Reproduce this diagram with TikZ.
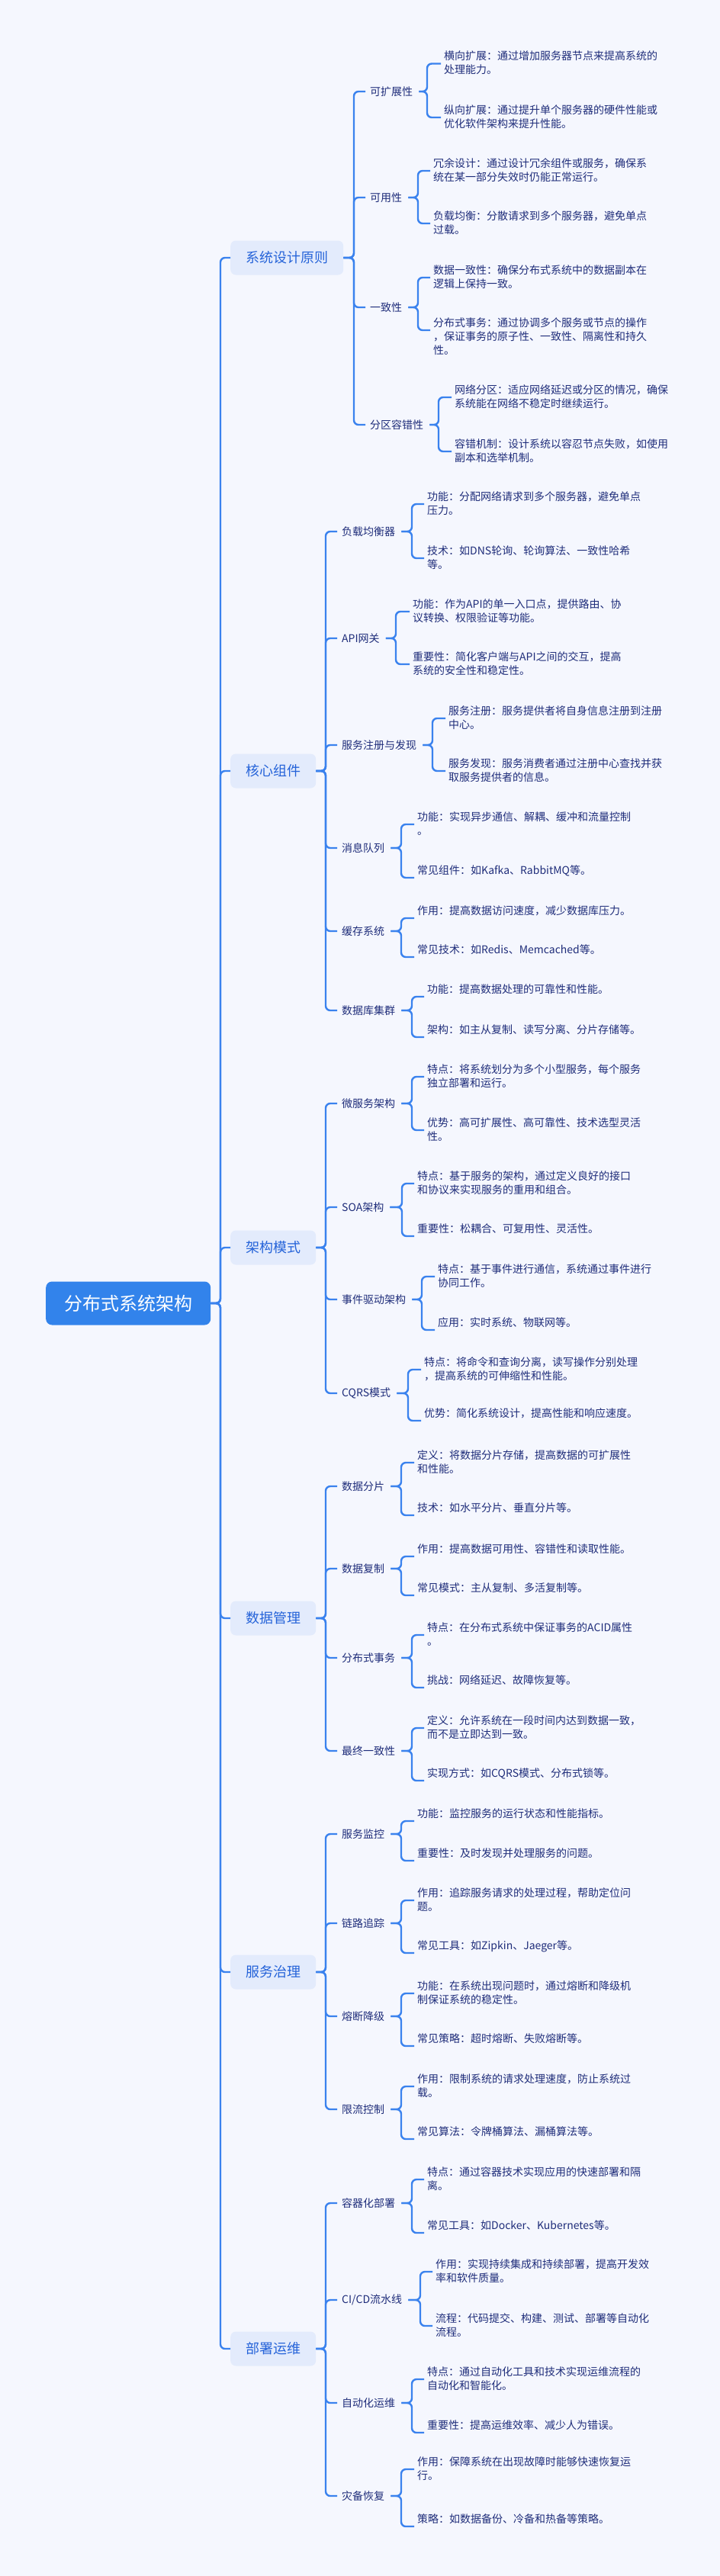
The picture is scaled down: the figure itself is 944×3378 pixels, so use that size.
\documentclass[tikz,border=0pt]{standalone}
\usepackage{fontspec}
\setmainfont{Noto Sans CJK SC}
\definecolor{bg}{HTML}{F5F7FE}
\definecolor{ln}{HTML}{3A82EE}
\definecolor{lonef}{HTML}{E3EBFC}
\definecolor{lonet}{HTML}{2563D9}
\definecolor{rootf}{HTML}{3283EB}
\definecolor{txt}{HTML}{1F2D7A}
\tikzset{
  conn/.style={draw=ln,line width=2.4pt,rounded corners=6pt},
  rootbox/.style={fill=rootf,text=white,rounded corners=8pt,minimum height=57pt,inner xsep=24pt,font=\fontsize{24pt}{28pt}\selectfont},
  lonebox/.style={fill=lonef,text=lonet,rounded corners=7pt,minimum height=45pt,inner xsep=20pt,font=\fontsize{18pt}{22pt}\selectfont},
  ltwo/.style={text=txt,inner sep=0pt,font=\fontsize{14pt}{18pt}\selectfont},
  leaf/.style={text=txt,inner sep=0pt,align=left,font=\fontsize{14pt}{18pt}\selectfont},
}
\newcommand\grp[8]{%
  \node[ltwo,anchor=west] (#1) at (#4,#5) {#6};
  \coordinate (#1-sx) at (#3,#5);
  \coordinate (#1-bx) at (#7,#5);
  \draw[conn] (#2.east) -- (#2.east -| #1-sx) |- ([xshift=-6pt]#1.west);
  \def\curlx{#8}}
\newcommand\lf[4]{%
  \node[leaf,anchor=north west] (#1-#2) at ({\curlx},{#3-9}) {#4};
  \coordinate (#1-#2-in) at ({\curlx-4},{#3+8});
  \draw[conn] ([xshift=8pt]#1.east) -- (#1-bx) |- (#1-#2-in);}
\begin{document}
\begin{tikzpicture}[x=1pt,y=-1pt]
\fill[bg] (0,0) rectangle (944,3378);
\useasboundingbox (0,0) rectangle (944,3378);
\node[rootbox,anchor=west] (root) at (60,1709) {分布式系统架构};
\coordinate (rs) at (289,1709);
\node[lonebox,anchor=west] (s1) at (302,338) {系统设计原则};
\node[lonebox,anchor=west] (s2) at (302,1011) {核心组件};
\node[lonebox,anchor=west] (s3) at (302,1636) {架构模式};
\node[lonebox,anchor=west] (s4) at (302,2122) {数据管理};
\node[lonebox,anchor=west] (s5) at (302,2586) {服务治理};
\node[lonebox,anchor=west] (s6) at (302,3080) {部署运维};
\foreach \s in {s1,s2,s3,s4,s5,s6} {\draw[conn] (root.east) -- (rs) |- (\s.west);}

% section 1
\grp{a1}{s1}{464}{485}{120}{可扩展性}{560}{582}
\lf{a1}{a}{75.5}{横向扩展：通过增加服务器节点来提高系统的\\处理能力。}
\lf{a1}{b}{146}{纵向扩展：通过提升单个服务器的硬件性能或\\优化软件架构来提升性能。}
\grp{a2}{s1}{464}{485}{259}{可用性}{548}{568}
\lf{a2}{a}{216}{冗余设计：通过设计冗余组件或服务，确保系\\统在某一部分失效时仍能正常运行。}
\lf{a2}{b}{285}{负载均衡：分散请求到多个服务器，避免单点\\过载。}
\grp{a3}{s1}{464}{485}{403}{一致性}{548}{568}
\lf{a3}{a}{356}{数据一致性：确保分布式系统中的数据副本在\\逻辑上保持一致。}
\lf{a3}{b}{425}{分布式事务：通过协调多个服务或节点的操作\\，保证事务的原子性、一致性、隔离性和持久\\性。}
\grp{a4}{s1}{464}{485}{557}{分区容错性}{575}{596}
\lf{a4}{a}{513}{网络分区：适应网络延迟或分区的情况，确保\\系统能在网络不稳定时继续运行。}
\lf{a4}{b}{584}{容错机制：设计系统以容忍节点失败，如使用\\副本和选举机制。}

% section 2
\grp{b1}{s2}{427}{448}{697}{负载均衡器}{540}{560}
\lf{b1}{a}{653}{功能：分配网络请求到多个服务器，避免单点\\压力。}
\lf{b1}{b}{724}{技术：如DNS轮询、轮询算法、一致性哈希\\等。}
\grp{b2}{s2}{427}{448}{837}{API网关}{519}{541}
\lf{b2}{a}{794}{功能：作为API的单一入口点，提供路由、协\\议转换、权限验证等功能。}
\lf{b2}{b}{863}{重要性：简化客户端与API之间的交互，提高\\系统的安全性和稳定性。}
\grp{b3}{s2}{427}{448}{977}{服务注册与发现}{567}{588}
\lf{b3}{a}{934}{服务注册：服务提供者将自身信息注册到注册\\中心。}
\lf{b3}{b}{1003}{服务发现：服务消费者通过注册中心查找并获\\取服务提供者的信息。}
\grp{b4}{s2}{427}{448}{1112}{消息队列}{526}{547}
\lf{b4}{a}{1073}{功能：实现异步通信、解耦、缓冲和流量控制\\。}
\lf{b4}{b}{1143}{常见组件：如Kafka、RabbitMQ等。}
\grp{b5}{s2}{427}{448}{1221}{缓存系统}{526}{547}
\lf{b5}{a}{1196}{作用：提高数据访问速度，减少数据库压力。}
\lf{b5}{b}{1247}{常见技术：如Redis、Memcached等。}
\grp{b6}{s2}{427}{448}{1325}{数据库集群}{540}{560}
\lf{b6}{a}{1299}{功能：提高数据处理的可靠性和性能。}
\lf{b6}{b}{1352}{架构：如主从复制、读写分离、分片存储等。}

% section 3
\grp{c1}{s3}{427}{448}{1447}{微服务架构}{540}{560}
\lf{c1}{a}{1404}{特点：将系统划分为多个小型服务，每个服务\\独立部署和运行。}
\lf{c1}{b}{1474}{优势：高可扩展性、高可靠性、技术选型灵活\\性。}
\grp{c2}{s3}{427}{448}{1583}{SOA架构}{527}{547}
\lf{c2}{a}{1544}{特点：基于服务的架构，通过定义良好的接口\\和协议来实现服务的重用和组合。}
\lf{c2}{b}{1613}{重要性：松耦合、可复用性、灵活性。}
\grp{c3}{s3}{427}{448}{1704}{事件驱动架构}{553}{574}
\lf{c3}{a}{1666}{特点：基于事件进行通信，系统通过事件进行\\协同工作。}
\lf{c3}{b}{1736}{应用：实时系统、物联网等。}
\grp{c4}{s3}{427}{448}{1827}{CQRS模式}{535}{556}
\lf{c4}{a}{1788}{特点：将命令和查询分离，读写操作分别处理\\，提高系统的可伸缩性和性能。}
\lf{c4}{b}{1855}{优势：简化系统设计，提高性能和响应速度。}

% section 4
\grp{d1}{s4}{427}{448}{1949}{数据分片}{526}{547}
\lf{d1}{a}{1910}{定义：将数据分片存储，提高数据的可扩展性\\和性能。}
\lf{d1}{b}{1979}{技术：如水平分片、垂直分片等。}
\grp{d2}{s4}{427}{448}{2057}{数据复制}{526}{547}
\lf{d2}{a}{2033}{作用：提高数据可用性、容错性和读取性能。}
\lf{d2}{b}{2084}{常见模式：主从复制、多活复制等。}
\grp{d3}{s4}{427}{448}{2174}{分布式事务}{540}{560}
\lf{d3}{a}{2136}{特点：在分布式系统中保证事务的ACID属性\\。}
\lf{d3}{b}{2205}{挑战：网络延迟、故障恢复等。}
\grp{d4}{s4}{427}{448}{2296}{最终一致性}{540}{560}
\lf{d4}{a}{2258}{定义：允许系统在一段时间内达到数据一致，\\而不是立即达到一致。}
\lf{d4}{b}{2327}{实现方式：如CQRS模式、分布式锁等。}

% section 5
\grp{e1}{s5}{427}{448}{2405}{服务监控}{526}{547}
\lf{e1}{a}{2380}{功能：监控服务的运行状态和性能指标。}
\lf{e1}{b}{2432}{重要性：及时发现并处理服务的问题。}
\grp{e2}{s5}{427}{448}{2522}{链路追踪}{526}{547}
\lf{e2}{a}{2484}{作用：追踪服务请求的处理过程，帮助定位问\\题。}
\lf{e2}{b}{2553}{常见工具：如Zipkin、Jaeger等。}
\grp{e3}{s5}{427}{448}{2644}{熔断降级}{526}{547}
\lf{e3}{a}{2606}{功能：在系统出现问题时，通过熔断和降级机\\制保证系统的稳定性。}
\lf{e3}{b}{2675}{常见策略：超时熔断、失败熔断等。}
\grp{e4}{s5}{427}{448}{2766}{限流控制}{526}{547}
\lf{e4}{a}{2728}{作用：限制系统的请求处理速度，防止系统过\\载。}
\lf{e4}{b}{2797}{常见算法：令牌桶算法、漏桶算法等。}

% section 6
\grp{f1}{s6}{427}{448}{2889}{容器化部署}{540}{560}
\lf{f1}{a}{2850}{特点：通过容器技术实现应用的快速部署和隔\\离。}
\lf{f1}{b}{2920}{常见工具：如Docker、Kubernetes等。}
\grp{f2}{s6}{427}{448}{3016}{CI/CD流水线}{551}{571}
\lf{f2}{a}{2971}{作用：实现持续集成和持续部署，提高开发效\\率和软件质量。}
\lf{f2}{b}{3042}{流程：代码提交、构建、测试、部署等自动化\\流程。}
\grp{f3}{s6}{427}{448}{3151}{自动化运维}{540}{560}
\lf{f3}{a}{3112}{特点：通过自动化工具和技术实现运维流程的\\自动化和智能化。}
\lf{f3}{b}{3182}{重要性：提高运维效率、减少人为错误。}
\grp{f4}{s6}{427}{448}{3273}{灾备恢复}{526}{547}
\lf{f4}{a}{3230}{作用：保障系统在出现故障时能够快速恢复运\\行。}
\lf{f4}{b}{3305}{策略：如数据备份、冷备和热备等策略。}
\end{tikzpicture}
\end{document}
